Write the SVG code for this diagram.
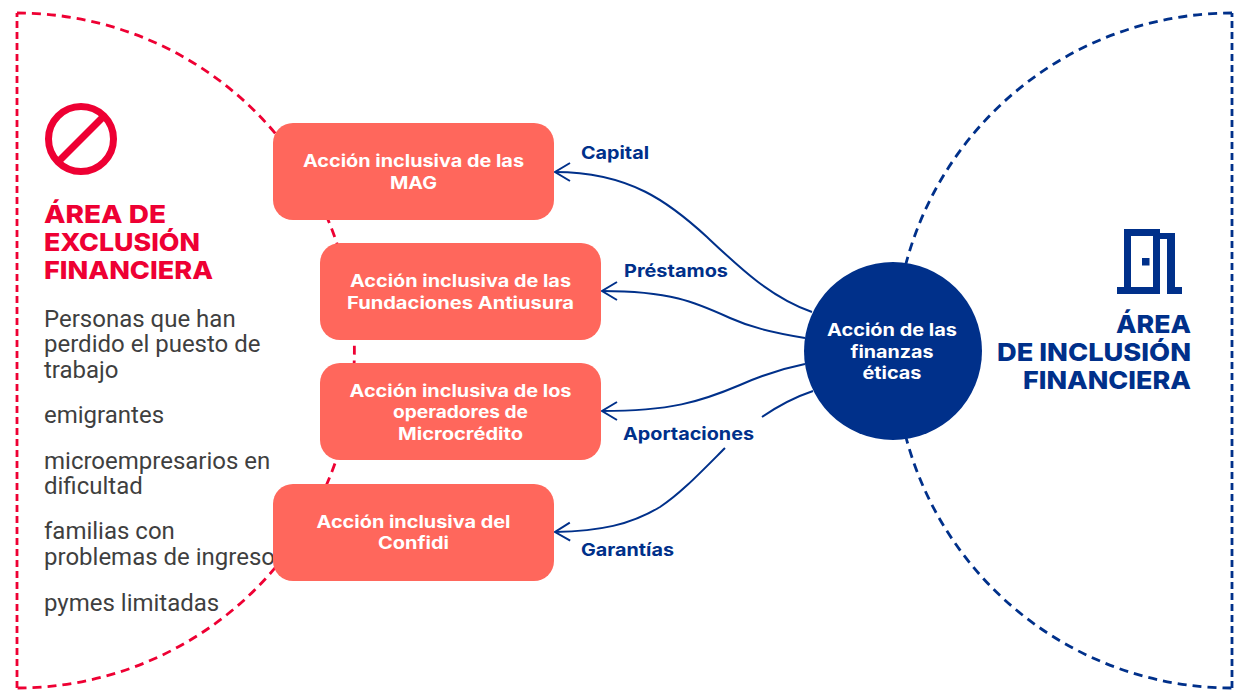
<svg xmlns="http://www.w3.org/2000/svg" width="1234" height="690" viewBox="0 0 1234 690">
<style>
.dash{fill:none;stroke-width:2.8}
.red{stroke:#ee0033}
.blue{stroke:#00308a}
.v{stroke-dasharray:7 4}
.a{stroke-dasharray:9 6}
.conn{fill:none;stroke:#00308a;stroke-width:2}
.box{fill:#ff675c}
.t{font-family:"Inter","Liberation Sans",sans-serif;font-weight:700;text-anchor:middle;fill:#fff;font-size:17px}
.lab{font-family:"Inter","Liberation Sans",sans-serif;font-weight:700;fill:#00308a;font-size:17.5px}
.h{font-family:"Inter","Liberation Sans",sans-serif;font-weight:800;font-size:25px}
.b{font-family:"Roboto",sans-serif;font-size:24px;fill:#3f3f3f}
</style>
<defs>
<marker id="arr" markerUnits="userSpaceOnUse" markerWidth="20" markerHeight="24" refX="18" refY="12" orient="auto">
<path d="M3 3 L18 12 L3 21" fill="none" stroke="#00308a" stroke-width="2"/>
</marker>
</defs>
<rect width="1234" height="690" fill="#fff"/>
<g id="boundaries">
<path class="dash red v" d="M17 688 V13"/>
<path class="dash red a" d="M17 13 A337.500 337.500 0 0 1 17 688"/>
<path class="dash blue v" d="M1232 688 V13"/>
<path class="dash blue a" d="M1232 13 A337.500 337.500 0 0 0 1232 688"/>
</g>
<g id="connectors">
<path class="conn" marker-end="url(#arr)" d="M812 312 C770 297 740 268 707 237 C670 203 630 172 555 172"/>
<path class="conn" marker-end="url(#arr)" d="M805 338 C770 332 750 327 730 318 C695 302 670 291 602 291"/>
<path class="conn" marker-end="url(#arr)" d="M805 364 C780 369 760 376 740 385 C700 402 670 411 602 411"/>
<path class="conn" d="M813 391 C795 397 778 406 762 417"/>
<path class="conn" marker-end="url(#arr)" d="M725 448 C700 473 680 494 660 507 C630 525 600 531 555 532"/>
</g>
<g id="node-exclusion">
<circle cx="81" cy="139" r="32.500" fill="none" stroke="#ee0033" stroke-width="7"/>
<path d="M60 160 L102 118" stroke="#ee0033" stroke-width="7"/>
<text class="h" fill="#ee0033"><tspan x="44" y="223" textLength="122" lengthAdjust="spacingAndGlyphs">ÁREA DE</tspan><tspan x="44" y="251" textLength="156" lengthAdjust="spacingAndGlyphs">EXCLUSIÓN</tspan><tspan x="44" y="279" textLength="169" lengthAdjust="spacingAndGlyphs">FINANCIERA</tspan></text>
<text class="b"><tspan x="44" y="327">Personas que han</tspan><tspan x="44" y="352">perdido el puesto de</tspan><tspan x="44" y="378">trabajo</tspan><tspan x="44" y="423">emigrantes</tspan><tspan x="44" y="469">microempresarios en</tspan><tspan x="44" y="494">dificultad</tspan><tspan x="44" y="539">familias con</tspan><tspan x="44" y="565">problemas de ingreso</tspan><tspan x="44" y="611">pymes limitadas</tspan></text>
</g>
<g id="node-mag">
<rect class="box" x="273" y="123" width="281" height="97" rx="20"/>
<text class="t"><tspan x="413.500" y="167" textLength="221" lengthAdjust="spacingAndGlyphs">Acción inclusiva de las</tspan><tspan x="413.500" y="189" textLength="47" lengthAdjust="spacingAndGlyphs">MAG</tspan></text>
</g>
<g id="node-fundaciones">
<rect class="box" x="320" y="243" width="281" height="97" rx="20"/>
<text class="t"><tspan x="460.500" y="287" textLength="221" lengthAdjust="spacingAndGlyphs">Acción inclusiva de las</tspan><tspan x="460.500" y="309" textLength="227" lengthAdjust="spacingAndGlyphs">Fundaciones Antiusura</tspan></text>
</g>
<g id="node-microcredito">
<rect class="box" x="320" y="363" width="281" height="97" rx="20"/>
<text class="t"><tspan x="460.500" y="397" textLength="222" lengthAdjust="spacingAndGlyphs">Acción inclusiva de los</tspan><tspan x="460.500" y="418" textLength="135" lengthAdjust="spacingAndGlyphs">operadores de</tspan><tspan x="460.500" y="440" textLength="125" lengthAdjust="spacingAndGlyphs">Microcrédito</tspan></text>
</g>
<g id="node-confidi">
<rect class="box" x="273" y="484" width="281" height="97" rx="20"/>
<text class="t"><tspan x="413.500" y="528" textLength="194" lengthAdjust="spacingAndGlyphs">Acción inclusiva del</tspan><tspan x="413.500" y="549" textLength="71" lengthAdjust="spacingAndGlyphs">Confidi</tspan></text>
</g>
<g id="node-finanzas">
<circle cx="893" cy="351" r="89" fill="#00308a"/>
<text class="t"><tspan x="892" y="336" textLength="130" lengthAdjust="spacingAndGlyphs">Acción de las</tspan><tspan x="892" y="358" textLength="83" lengthAdjust="spacingAndGlyphs">finanzas</tspan><tspan x="892" y="379" textLength="59" lengthAdjust="spacingAndGlyphs">éticas</tspan></text>
</g>
<g id="node-inclusion">
<path fill="#00308a" fill-rule="evenodd" d="M1124 229 H1160 V233 H1175 V287 H1182 V294 H1167 V287 H1167 V239 H1160 V294 H1117 V287 H1124 Z M1131 236 V287 H1153 V236 Z"/>
<rect x="1142" y="258" width="7.500" height="7.500" fill="#00308a"/>
<text class="h" fill="#00308a" text-anchor="end"><tspan x="1191" y="333" textLength="75" lengthAdjust="spacingAndGlyphs">ÁREA</tspan><tspan x="1191" y="361" textLength="194" lengthAdjust="spacingAndGlyphs">DE INCLUSIÓN</tspan><tspan x="1191" y="389" textLength="168" lengthAdjust="spacingAndGlyphs">FINANCIERA</tspan></text>
</g>
<g id="labels">
<text class="lab" x="581" y="159" textLength="68" lengthAdjust="spacingAndGlyphs">Capital</text>
<text class="lab" x="624" y="277" textLength="104" lengthAdjust="spacingAndGlyphs">Préstamos</text>
<text class="lab" x="623" y="440" textLength="131" lengthAdjust="spacingAndGlyphs">Aportaciones</text>
<text class="lab" x="581" y="556" textLength="93" lengthAdjust="spacingAndGlyphs">Garantías</text>
</g>
</svg>
